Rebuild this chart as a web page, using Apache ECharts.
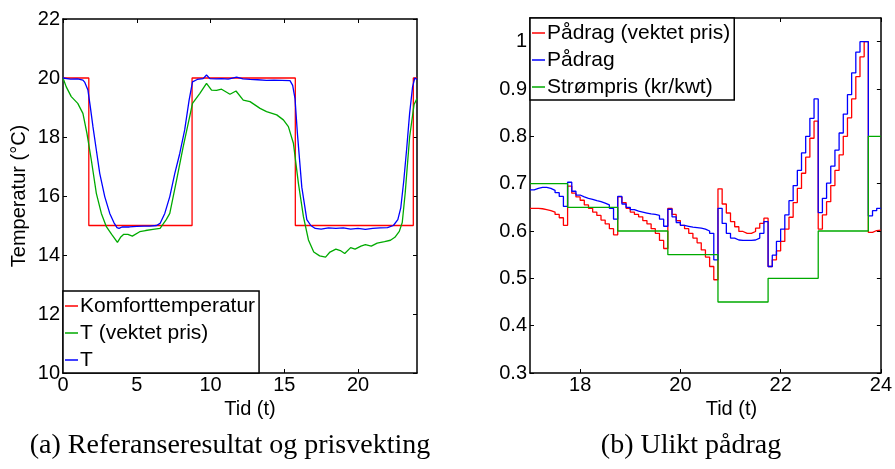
<!DOCTYPE html>
<html><head><meta charset="utf-8">
<script src="https://cdn.jsdelivr.net/npm/echarts@6/dist/echarts.min.js"></script>
<style>html,body{margin:0;padding:0;background:#fff}#c{width:895px;height:469px}</style>
</head><body><div id="c"></div>
<script>
// ---------- Left chart (a) ----------
const komfortTid   = [0, 1.75, 8.75, 15.75, 23.75, 24];
const komfortVerdi = [20, 15, 20, 15, 20, 20];

const tVektetTid = [0,0.22,0.56,1.0,1.35,1.62,1.92,2.26,2.6,2.94,3.3,3.69,3.9,4.12,4.4,4.7,5.2,5.6,6.1,6.58,7.0,7.24,7.7,8.15,8.49,8.78,9.28,9.73,10.07,10.41,10.75,11.32,11.73,12.22,12.68,13.36,13.8,14.49,14.94,15.28,15.62,15.96,16.3,16.64,17.0,17.4,17.8,18.1,18.5,18.8,19.1,19.5,19.8,20.2,20.5,20.9,21.3,21.8,22.2,22.5,22.8,23.0,23.2,23.5,23.8,24];
const tVektetVerdi = [20,19.7,19.37,19.14,18.8,18.13,17.22,16.09,15.41,14.96,14.7,14.43,14.6,14.7,14.7,14.64,14.79,14.83,14.87,14.9,15.2,15.41,16.54,17.67,18.46,19.14,19.48,19.82,19.59,19.58,19.62,19.45,19.56,19.25,19.2,18.97,18.86,18.75,18.58,18.35,17.79,16.43,15.3,14.51,14.1,13.97,13.93,14.1,14.2,14.15,14.05,14.25,14.2,14.3,14.35,14.3,14.4,14.45,14.5,14.6,14.8,15.1,16.1,18.0,19.1,19.3];

const tTid = [0,0.5,1.0,1.35,1.48,1.69,1.85,2.03,2.26,2.49,2.83,3.17,3.45,3.66,3.8,4.0,4.5,5.0,5.5,5.88,6.34,6.58,6.9,7.24,7.58,7.92,8.25,8.55,8.78,9.1,9.5,9.73,9.96,10.4,10.75,11.2,11.77,12.2,12.68,13.2,13.8,14.3,14.83,14.94,15.39,15.57,15.73,15.89,16.19,16.53,16.8,17.1,17.5,18.0,18.5,19.0,19.5,20.0,20.5,21.0,21.5,22.0,22.4,22.7,22.9,23.1,23.3,23.5,23.7,23.85,24];
const tVerdi = [20,19.96,19.97,19.93,19.85,19.59,19.03,18.35,17.56,16.77,15.98,15.41,15.1,14.93,14.9,14.95,14.95,14.97,14.98,14.98,15.0,15.07,15.41,15.98,16.77,17.45,18.24,19.25,19.87,19.95,19.98,20.1,19.98,19.97,19.98,19.96,20.03,19.97,19.95,19.94,19.92,19.93,19.92,19.96,19.91,19.75,19.3,18.13,16.3,15.2,15.0,14.9,14.88,14.92,14.9,14.92,14.88,14.9,14.87,14.9,14.92,14.93,15.0,15.2,15.6,16.5,17.6,18.8,19.7,20.0,19.95];

// ---------- Right chart (b) ----------
const startTime = 17;      // hours
const stepsPerHour = 12;   // 5-minute control steps
const padragVektet = [
 0.648,0.648,0.647,0.645,0.643,0.640,0.635,0.628,0.612,
 0.695,0.680,0.672,0.665,0.655,0.648,0.640,0.633,0.623,0.615,0.605,0.592,
 0.672,0.660,0.648,0.640,0.635,0.630,0.622,0.615,0.605,0.595,0.580,0.563,
 0.648,0.635,0.622,0.612,0.605,0.595,0.585,0.575,0.560,0.545,0.525,0.497,
 0.689,0.657,0.638,0.620,0.609,0.599,0.595,0.595,0.599,0.606,0.616,0.627,
 0.525,0.539,0.558,0.578,0.604,0.629,0.660,0.690,0.722,0.756,0.796,0.832,
 0.604,0.634,0.662,0.696,0.728,0.761,0.800,0.839,0.879,0.926,0.968,1.000,
 0.597,0.601,0.602];
const padrag = [
 0.687,0.690,0.692,0.692,0.690,0.686,0.681,0.673,0.652,
 0.703,0.684,0.676,0.672,0.669,0.667,0.664,0.662,0.659,0.655,0.648,0.625,
 0.673,0.657,0.650,0.645,0.642,0.640,0.638,0.636,0.635,0.633,0.625,0.610,
 0.646,0.630,0.618,0.612,0.610,0.608,0.607,0.606,0.604,0.600,0.595,0.539,
 0.648,0.616,0.595,0.585,0.581,0.580,0.580,0.580,0.581,0.585,0.595,0.620,
 0.525,0.549,0.578,0.604,0.634,0.664,0.696,0.728,0.765,0.800,0.838,0.879,
 0.639,0.669,0.701,0.737,0.771,0.807,0.847,0.888,0.934,0.978,1.000,1.000,
 0.632,0.643,0.648];
const prisTid   = [17, 17.75, 18.75, 19.75, 20.75, 21.75, 22.75, 23.75, 24];
const prisVerdi = [0.70, 0.65, 0.60, 0.55, 0.45, 0.50, 0.60, 0.80, 0.80];

const leftXTicks  = [0, 5, 10, 15, 20];
const leftYTicks  = [10, 12, 14, 16, 18, 20, 22];
const rightXTicks = [18, 20, 22, 24];
const rightYTicks = [0.3, 0.4, 0.5, 0.6, 0.7, 0.8, 0.9, 1.0];

// ---------- build ----------
const pairs = (xs, ys) => xs.map((x, i) => [x, ys[i]]);
const stairs = (vals) => {
  const d = vals.map((v, i) => [startTime + i / stepsPerHour, v]);
  d.push([24, vals[vals.length - 1]]);
  return d;
};

const FONT = 'Liberation Sans';
const black = '#000';
const axLine = {show: true, onZero: false, lineStyle: {color: black, width: 1.5}};

function xAx(grid, min, max, ticks, pos, name, namePad) {
  return {
    gridIndex: grid, type: 'value', min, max, position: pos,
    axisLine: axLine,
    axisTick: {show: true, inside: true, length: 4, customValues: ticks, lineStyle: {color: black, width: 1}},
    axisLabel: {show: pos === 'bottom', customValues: ticks, color: black, fontSize: 20, fontFamily: FONT, margin: 2},
    splitLine: {show: false},
    name: pos === 'bottom' ? name : '',
    nameLocation: 'middle', nameGap: 24,
    nameTextStyle: {color: black, fontSize: 20, fontFamily: FONT, padding: namePad}
  };
}
function yAx(grid, min, max, ticks, pos, fmt, name) {
  return {
    gridIndex: grid, type: 'value', min, max, position: pos,
    axisLine: axLine,
    axisTick: {show: true, inside: true, length: 4, customValues: ticks, lineStyle: {color: black, width: 1}},
    axisLabel: {show: pos === 'left', customValues: ticks, color: black, fontSize: 20, fontFamily: FONT, margin: 3, formatter: fmt},
    splitLine: {show: false},
    name: pos === 'left' ? name : '',
    nameLocation: 'middle', nameGap: 34, nameRotate: 90,
    nameTextStyle: {color: black, fontSize: 20, fontFamily: FONT}
  };
}

const lineS = (name, data, color, xi, yi, step) => ({
  name, type: 'line', data, xAxisIndex: xi, yAxisIndex: yi,
  step: step || false, showSymbol: false, symbol: 'none', smooth: false,
  lineStyle: {color, width: 1.3}, itemStyle: {color}, silent: true
});

const RED = '#ff0000', GREEN = '#00aa00', BLUE = '#0000ff';

const legendBase = {
  orient: 'vertical', icon: 'rect', itemWidth: 13, itemHeight: 1.5, itemGap: 3,
  borderColor: black, borderWidth: 1.5, backgroundColor: '#fff', borderRadius: 0,
  padding: [3, 4, 1, 2],
  textStyle: {color: black, fontSize: 21, lineHeight: 24, fontFamily: FONT, padding: [0, 0, 0, -3]},
  selectedMode: false
};

const option = {
  animation: false,
  backgroundColor: '#fff',
  grid: [
    {left: 63, top: 19, width: 354, height: 354, show: false},
    {left: 530, top: 18, width: 353, height: 355, show: false}
  ],
  xAxis: [
    xAx(0, 0, 24, leftXTicks, 'bottom', 'Tid (t)', [0, 0, 0, 20]),
    xAx(0, 0, 24, leftXTicks, 'top'),
    xAx(1, 17, 24, rightXTicks, 'bottom', 'Tid (t)', [0, 0, 0, 52]),
    xAx(1, 17, 24, rightXTicks, 'top')
  ],
  yAxis: [
    yAx(0, 10, 22, leftYTicks, 'left', v => String(v), 'Temperatur (°C)'),
    yAx(0, 10, 22, leftYTicks, 'right'),
    yAx(1, 0.3, 1.05, rightYTicks, 'left', v => String(Math.round(v * 10) / 10)),
    yAx(1, 0.3, 1.05, rightYTicks, 'right')
  ],
  legend: [
    Object.assign({}, legendBase, {left: 63, top: 291, data: ['Komforttemperatur', 'T (vektet pris)', 'T']}),
    Object.assign({}, legendBase, {left: 530, top: 18, data: ['Pådrag (vektet pris)', 'Pådrag', 'Strømpris (kr/kwt)']})
  ],
  series: [
    lineS('Komforttemperatur', pairs(komfortTid, komfortVerdi), RED, 0, 0, 'end'),
    lineS('T (vektet pris)', pairs(tVektetTid, tVektetVerdi), GREEN, 0, 0),
    lineS('T', pairs(tTid, tVerdi), BLUE, 0, 0),
    lineS('Pådrag (vektet pris)', stairs(padragVektet), RED, 2, 2, 'end'),
    lineS('Pådrag', stairs(padrag), BLUE, 2, 2, 'end'),
    lineS('Strømpris (kr/kwt)', pairs(prisTid, prisVerdi), GREEN, 2, 2, 'end')
  ],
  graphic: [
    {type: 'text', x: 230, y: 446, style: {text: '(a) Referanseresultat og prisvekting', fontSize: 28, fontFamily: 'Liberation Serif', fill: black, align: 'center', verticalAlign: 'middle'}},
    {type: 'text', x: 691, y: 446, style: {text: '(b) Ulikt pådrag', fontSize: 28, fontFamily: 'Liberation Serif', fill: black, align: 'center', verticalAlign: 'middle'}}
  ]
};

const chart = echarts.init(document.getElementById('c'), null, {renderer: 'canvas'});
chart.setOption(option);
</script></body></html>
